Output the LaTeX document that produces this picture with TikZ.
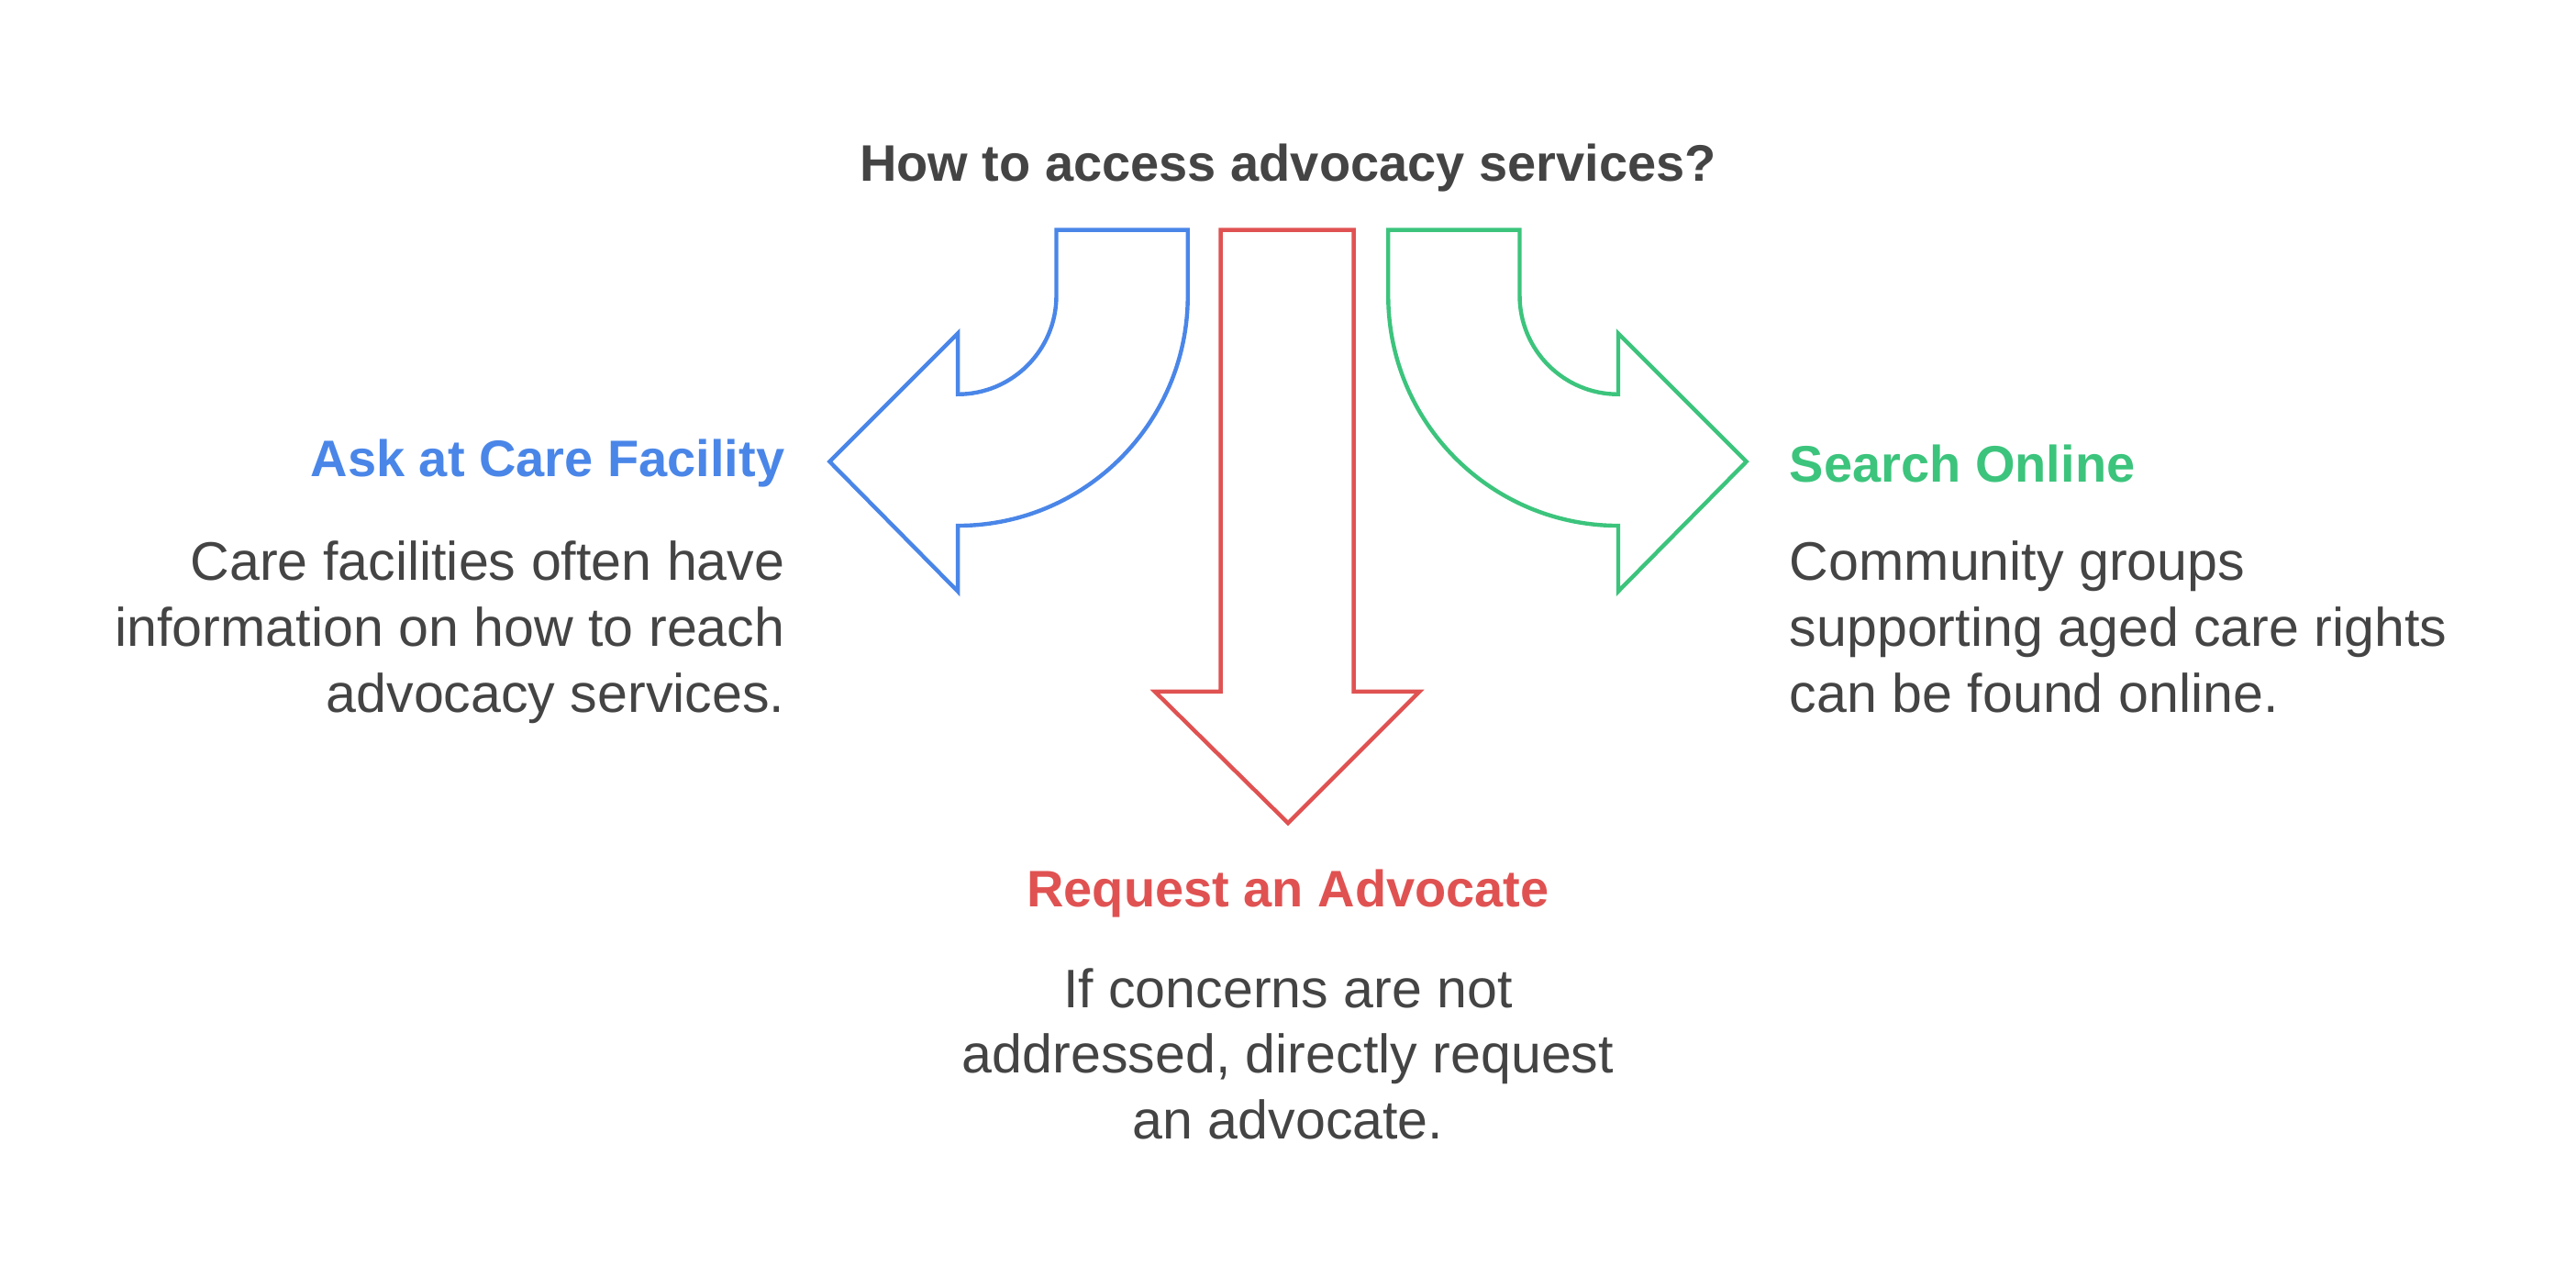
\documentclass[tikz,border=0pt]{standalone}
\usepackage{fontspec}
\setmainfont{Liberation Sans}
\definecolor{txtgray}{HTML}{444444}
\definecolor{askblue}{HTML}{4A86E8}
\definecolor{reqred}{HTML}{E05252}
\definecolor{srchgreen}{HTML}{3CC47C}
\tikzset{
    bigarrow/.style={line width=1.4pt, line join=miter},
    headtext/.style={font=\fontsize{17.8}{21}\selectfont\bfseries, inner sep=0pt},
    bodytext/.style={font=\fontsize{18.8}{22.8}\selectfont, text=txtgray, inner sep=0pt}
}
\begin{document}
\begin{tikzpicture}[x=0.02cm,y=0.02cm]
    \useasboundingbox (0,0) rectangle (1568,784);
    % arrows
    \draw[bigarrow, askblue] (643,644)--(723,644)--(723,604) arc (0:-90:140)
        --(583,424)--(505,503)--(583,581)--(583,544) arc (-90:0:60) --cycle;
    \draw[bigarrow, reqred] (743,644)--(824,644)--(824,363)--(864,363)
        --(784,283)--(703,363)--(743,363)--cycle;
    \draw[bigarrow, srchgreen] (925,644)--(845,644)--(845,604) arc (180:270:140)
        --(985,424)--(1063,503)--(985,581)--(985,544) arc (270:180:60) --cycle;
    % texts
    \node[headtext, text=txtgray] (title) at (784,682) {How to access advocacy services?};
    \node[headtext, text=askblue, anchor=east] (askhead) at (478,502) {Ask at Care Facility};
    \node[bodytext, anchor=north east, align=right] (askbody) at (478,455)
        {Care facilities often have\\information on how to reach\\advocacy services.};
    \node[headtext, text=srchgreen, anchor=west] (srchhead) at (1089,502) {Search Online};
    \node[bodytext, anchor=north west, align=left] (srchbody) at (1089,455)
        {Community groups\\supporting aged care rights\\can be found online.};
    \node[headtext, text=reqred] (reqhead) at (784,240) {Request an Advocate};
    \node[bodytext, anchor=north, align=center] (reqbody) at (784,195)
        {If concerns are not\\addressed, directly request\\an advocate.};
\end{tikzpicture}
\end{document}
